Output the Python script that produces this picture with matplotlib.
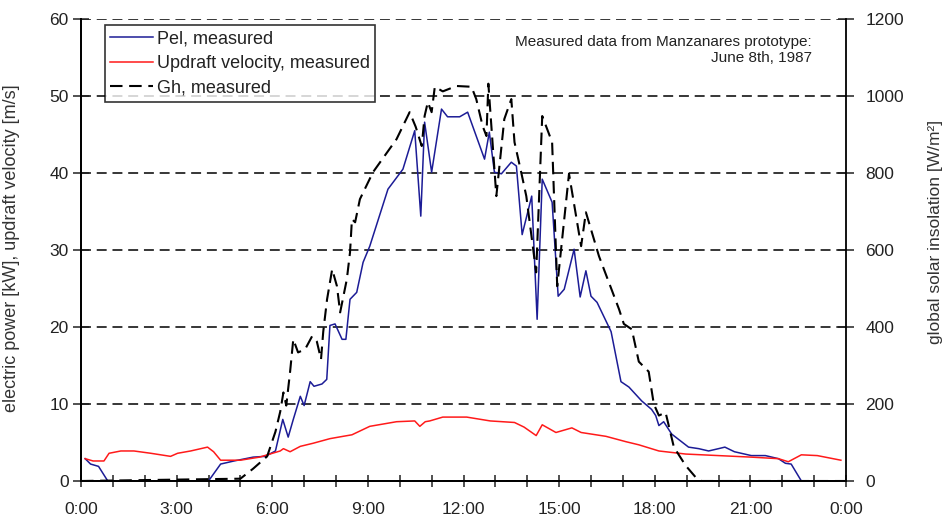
import matplotlib.pyplot as plt
from matplotlib.ticker import MultipleLocator

plt.rcParams['font.family'] = ['Liberation Sans', 'DejaVu Sans']

# electric power (kW)
pel_hours = [0.13, 0.3, 0.55, 0.84, 4.0, 4.38, 4.8, 5.4, 5.78, 6.1,
             6.33, 6.5, 6.66, 6.88, 7.0, 7.19, 7.31, 7.56, 7.71, 7.81,
             7.97, 8.19, 8.31, 8.44, 8.65, 8.85, 9.06, 9.63, 10.1, 10.47,
             10.66, 10.78, 11.0, 11.31, 11.5, 11.88, 12.13, 12.66, 12.81, 12.97,
             13.19, 13.5, 13.66, 13.84, 14.14, 14.31, 14.47, 14.78, 14.97, 15.16,
             15.47, 15.66, 15.84, 16.0, 16.19, 16.63, 16.94, 17.19, 17.59, 17.9,
             18.03, 18.13, 18.28, 18.53, 19.06, 19.38, 19.69, 20.0, 20.2, 20.5,
             21.03, 21.47, 21.88, 22.1, 22.28, 22.6, 24.0]
pel_kw = [2.9, 2.2, 1.9, 0, 0, 2.2, 2.6, 3.1, 3.2, 3.9,
          8.0, 5.7, 8.0, 11.0, 9.8, 12.9, 12.3, 12.6, 13.2, 20.2,
          20.4, 18.4, 18.4, 23.6, 24.5, 28.4, 30.5, 37.9, 40.5, 45.5,
          34.4, 46.6, 40.1, 48.3, 47.3, 47.3, 47.9, 41.8, 45.3, 40.1,
          39.9, 41.4, 40.9, 32.0, 37.0, 21.0, 39.2, 36.2, 24.0, 24.9,
          30.1, 23.9, 27.3, 24.0, 23.2, 19.4, 12.9, 12.2, 10.4, 9.3,
          8.5, 7.2, 7.7, 6.1, 4.4, 4.2, 3.9, 4.2, 4.4, 3.8,
          3.3, 3.3, 2.9, 2.3, 2.2, 0, 0]

# updraft velocity (m/s)
upd_hours = [0.13, 0.38, 0.72, 0.88, 1.25, 1.66, 2.19, 2.81, 3.03, 3.44,
             3.97, 4.16, 4.38, 5.0, 5.6, 6.25, 6.35, 6.56, 6.88, 7.28,
             7.81, 8.22, 8.5, 9.06, 9.9, 10.47, 10.63, 10.8, 10.94, 11.35,
             12.1, 12.84, 13.6, 13.9, 14.28, 14.47, 14.9, 15.4, 15.69, 16.47,
             17.1, 17.5, 18.13, 18.97, 20.0, 21.03, 21.88, 22.19, 22.6, 23.1,
             23.84]
upd_ms = [2.9, 2.6, 2.6, 3.6, 3.9, 3.9, 3.6, 3.2, 3.6, 3.9,
          4.4, 3.8, 2.7, 2.7, 3.1, 3.9, 4.2, 3.8, 4.5, 4.9,
          5.5, 5.8, 6.0, 7.1, 7.7, 7.8, 7.1, 7.7, 7.8, 8.3,
          8.3, 7.8, 7.6, 7.0, 5.9, 7.3, 6.3, 6.9, 6.3, 5.8,
          5.1, 4.7, 3.9, 3.5, 3.3, 3.1, 2.9, 2.5, 3.4, 3.3,
          2.7]

# global solar insolation (W/m2)
gh_hours = [0.0, 5.0, 5.4, 5.84, 6.1, 6.25, 6.35, 6.44, 6.56, 6.66,
            6.81, 7.03, 7.25, 7.4, 7.53, 7.6, 7.72, 7.88, 8.03, 8.13,
            8.34, 8.44, 8.5, 8.6, 8.75, 9.16, 9.9, 10.31, 10.5, 10.69,
            10.78, 10.88, 11.0, 11.1, 11.35, 11.78, 12.25, 12.4, 12.6, 12.72,
            12.78, 13.03, 13.28, 13.5, 13.6, 13.81, 13.97, 14.28, 14.47, 14.78,
            14.94, 15.31, 15.69, 15.84, 16.25, 16.88, 17.03, 17.28, 17.5, 17.81,
            17.97, 18.13, 18.34, 18.6, 18.97, 19.28, 19.47, 24.0]
gh_wm2 = [0, 6, 32, 64, 128, 180, 230, 196, 284, 368,
          334, 342, 376, 362, 316, 388, 472, 550, 506, 438,
          524, 594, 680, 672, 732, 802, 888, 958, 920, 870,
          948, 984, 958, 1024, 1012, 1026, 1024, 992, 922, 896,
          1032, 740, 940, 992, 880, 802, 740, 542, 948, 880,
          506, 798, 610, 698, 584, 446, 408, 394, 310, 284,
          200, 170, 178, 88, 40, 10, 0, 0]

tick_hours = [0, 3, 6, 9, 12, 15, 18, 21, 24]
tick_labels = ["0:00", "3:00", "6:00", "9:00", "12:00", "15:00", "18:00", "21:00", "0:00"]

fig = plt.figure(figsize=(9.47, 5.2), dpi=100)
ax = fig.add_axes([81 / 947, 1 - 481 / 520, 765 / 947, 462 / 520])
ax2 = ax.twinx()

l1, = ax.plot(pel_hours, pel_kw, color="#1c1c96", lw=1.1, label="Pel, measured")
l2, = ax.plot(upd_hours, upd_ms, color="#ff1a1a", lw=1.1, label="Updraft velocity, measured")
l3, = ax2.plot(gh_hours, gh_wm2, color="black", lw=1.5, linestyle=(0, (6.0, 3.2)),
               label="Gh, measured")

ax.set_xlim(0, 24)
ax.set_ylim(0, 60)
ax2.set_ylim(0, 1200)
ax.set_xticks(tick_hours)
ax.set_xticklabels(tick_labels)
ax.xaxis.set_minor_locator(MultipleLocator(1))
ax.set_yticks(range(0, 61, 10))
ax2.set_yticks(range(0, 1201, 200))

ax.yaxis.grid(True, color="black", linestyle=(0, (6.5, 3.8)), lw=1.1)
ax.set_axisbelow(True)

for a in (ax, ax2):
    a.spines["top"].set_visible(False)
    for s in a.spines.values():
        s.set_linewidth(1.3)
ax.spines["right"].set_visible(False)

ax.tick_params(axis="x", which="both", direction="inout", length=8, width=1.1,
               labelsize=12.5, pad=11, colors="#222222")
ax.tick_params(axis="y", direction="inout", length=12, width=1.1,
               labelsize=12.5, pad=3, colors="#222222")
ax2.tick_params(axis="y", direction="inout", length=12, width=1.1,
                labelsize=12.5, pad=8, colors="#222222")

ax.set_ylabel("electric power [kW], updraft velocity [m/s]", fontsize=13, color="#333333")
ax.yaxis.set_label_coords(-0.08, 0.505)
ax2.set_ylabel("global solar insolation [W/m²]", fontsize=12.5, color="#333333",
               rotation=90)
ax2.yaxis.set_label_coords(1.107, 0.54)

ax2.text(0.955, 0.966, "Measured data from Manzanares prototype:\nJune 8th, 1987",
         transform=ax2.transAxes, ha="right", va="top", fontsize=11,
         color="#222222", linespacing=1.2)

leg = ax2.legend(handles=[l1, l2, l3], loc="upper left", bbox_to_anchor=(0.031, 0.987),
                 borderaxespad=0, fontsize=13, frameon=True, fancybox=False,
                 handlelength=2.4, handletextpad=0.2, borderpad=0.3,
                 labelspacing=0.42)
leg.get_frame().set_edgecolor("black")
leg.get_frame().set_linewidth(1.2)
for t in leg.get_texts():
    t.set_color("#222222")

fig.savefig("out.png", dpi=100)
